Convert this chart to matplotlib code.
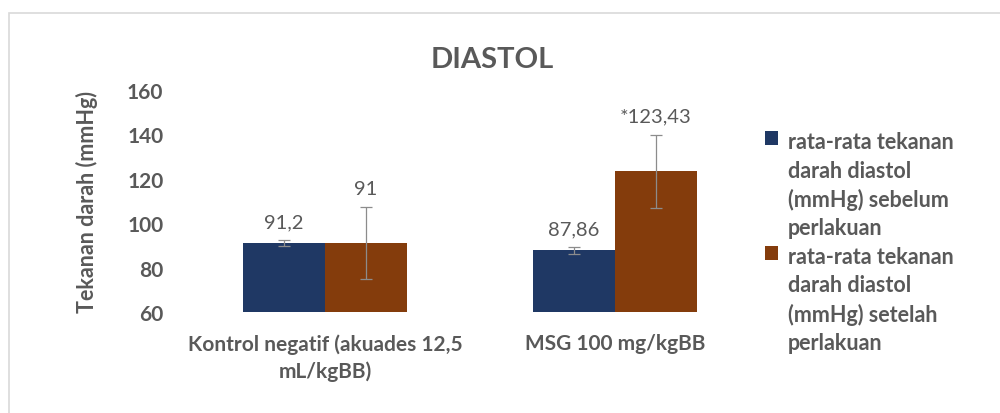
import matplotlib
matplotlib.use("Agg")
import matplotlib.pyplot as plt
from matplotlib.patches import Rectangle
import numpy as np

plt.rcParams['font.family'] = ['Lato', 'DejaVu Sans']

categories = ["Kontrol negatif (akuades 12,5\nmL/kgBB)", "MSG 100 mg/kgBB"]
series_names = ["rata-rata tekanan\ndarah diastol\n(mmHg) sebelum\nperlakuan",
                "rata-rata tekanan\ndarah diastol\n(mmHg) setelah\nperlakuan"]
before = [91.2, 87.86]
after = [91.0, 123.43]
before_err = [1.5, 1.6]
after_err = [16.2, 16.4]
before_labels = ["91,2", "87,86"]
after_labels = ["91", "*123,43"]
yticks = [60, 80, 100, 120, 140, 160]

blue = "#1F3864"
brown = "#843C0C"
gray = "#595959"

fig = plt.figure(figsize=(10, 4.14), dpi=100)
fig.patches.append(Rectangle((0.009, -0.1), 1.1, 1.066, transform=fig.transFigure,
                             fill=False, edgecolor="#d9d9d9", linewidth=1.2))
ax = fig.add_axes([0.18, 0.243, 0.58, 0.538])

x = np.arange(len(categories))
w = 0.283
ekw = dict(ecolor="#8c8c8c", elinewidth=0.9, capsize=4, capthick=0.9)
ax.bar(x - w/2, [b - 60 for b in before], w, bottom=60, color=blue, label=series_names[0],
       yerr=before_err, error_kw=ekw)
ax.bar(x + w/2, [a - 60 for a in after], w, bottom=60, color=brown, label=series_names[1],
       yerr=after_err, error_kw=ekw)

for i in range(len(categories)):
    ax.annotate(before_labels[i], (x[i] - w/2, before[i] + before_err[i]), xytext=(0, 13),
                textcoords="offset points", ha="center", va="center", fontsize=14.5, color=gray)
    ax.annotate(after_labels[i], (x[i] + w/2, after[i] + after_err[i]), xytext=(0, 13.5),
                textcoords="offset points", ha="center", va="center", fontsize=14.5, color=gray)

ax.set_xlim(-0.5, 1.5)
ax.set_ylim(60, 160)
ax.set_yticks(yticks)
ax.set_xticks(x)
ax.set_xticklabels(categories, fontsize=15, fontweight="bold", color=gray, linespacing=1.4)
ax.tick_params(axis="both", length=0, colors=gray)
ax.tick_params(axis="y", labelsize=15, pad=12)
ax.tick_params(axis="x", pad=15)
for lab in ax.get_yticklabels():
    lab.set_fontweight("bold")
for s in ax.spines.values():
    s.set_visible(False)

ax.set_ylabel("Tekanan darah (mmHg)", fontsize=15.5, fontweight="bold", color=gray, labelpad=21)
fig.text(0.492, 0.855, "DIASTOL", ha="center", va="center", fontsize=21, fontweight="bold", color=gray)

leg = ax.legend(loc="upper left", bbox_to_anchor=(0.765, 0.68), bbox_transform=fig.transFigure,
                frameon=False, handlelength=0.6, handleheight=0.6, handletextpad=0.45,
                labelspacing=0.35, borderpad=0, borderaxespad=0,
                prop=dict(size=15.5, weight="bold"))
for t in leg.get_texts():
    t.set_color(gray)
    t.set_linespacing(1.42)
for col in leg._legend_handle_box.get_children():
    for item in col.get_children():
        item.align = "top"

fig.savefig("out.png", dpi=100)
